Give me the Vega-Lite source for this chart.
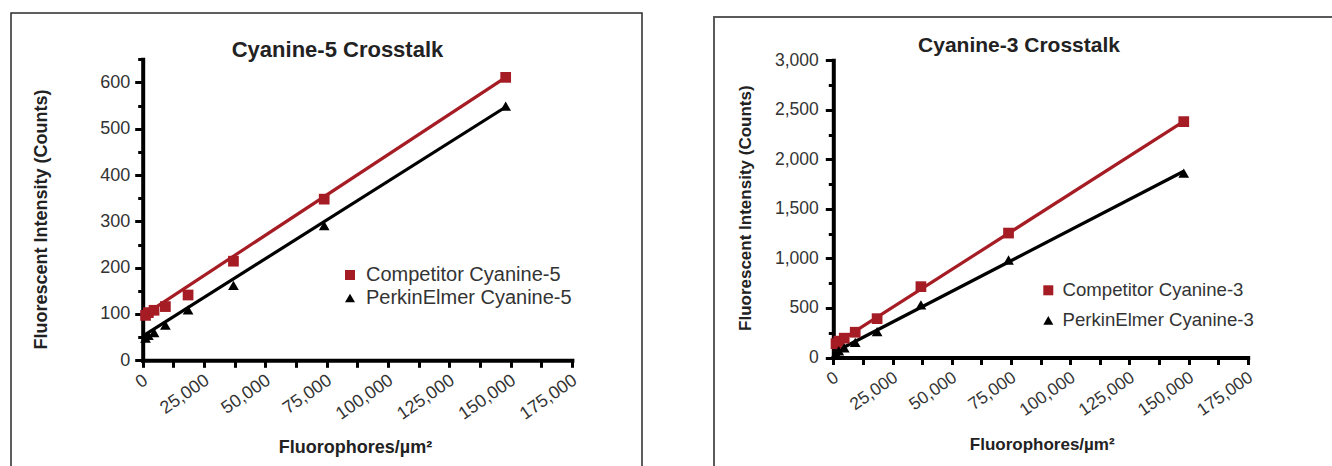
{
  "$schema": "https://vega.github.io/schema/vega-lite/v6.json",
  "padding": {"left": 10, "top": 12, "right": 0, "bottom": 0},
  "bounds": "flush",
  "center": true,
  "spacing": 72,
  "resolve": {"scale": {"color": "independent", "shape": "independent"}, "legend": {"color": "independent", "shape": "independent"}},
  "config": {
    "font": "Liberation Sans",
    "axis": {"grid": false, "domainColor": "#000000", "tickColor": "#000000", "labelColor": "#333333", "titleColor": "#222222", "titleFontWeight": "bold", "labelOverlap": false, "labelFlush": false, "labelBound": false, "domainCap": "square"},
    "legend": {"labelLimit": 400, "padding": 0}
  },
  "datasets": {
    "pts5": [
      {"series": "Competitor Cyanine-5", "x": 1156, "y": 97},
      {"series": "Competitor Cyanine-5", "x": 2312, "y": 103},
      {"series": "Competitor Cyanine-5", "x": 4625, "y": 108},
      {"series": "Competitor Cyanine-5", "x": 9250, "y": 116},
      {"series": "Competitor Cyanine-5", "x": 18500, "y": 141},
      {"series": "Competitor Cyanine-5", "x": 37000, "y": 214},
      {"series": "Competitor Cyanine-5", "x": 74000, "y": 348},
      {"series": "Competitor Cyanine-5", "x": 148000, "y": 611},
      {"series": "PerkinElmer Cyanine-5", "x": 1156, "y": 48},
      {"series": "PerkinElmer Cyanine-5", "x": 2312, "y": 54},
      {"series": "PerkinElmer Cyanine-5", "x": 4625, "y": 60},
      {"series": "PerkinElmer Cyanine-5", "x": 9250, "y": 76},
      {"series": "PerkinElmer Cyanine-5", "x": 18500, "y": 109},
      {"series": "PerkinElmer Cyanine-5", "x": 37000, "y": 162},
      {"series": "PerkinElmer Cyanine-5", "x": 74000, "y": 291},
      {"series": "PerkinElmer Cyanine-5", "x": 148000, "y": 549}
    ],
    "fit5red": [{"x": 0, "y": 96}, {"x": 148000, "y": 611}],
    "fit5black": [{"x": 0, "y": 52}, {"x": 148000, "y": 547}],
    "pts3": [
      {"series": "Competitor Cyanine-3", "x": 1156, "y": 140},
      {"series": "Competitor Cyanine-3", "x": 2312, "y": 165},
      {"series": "Competitor Cyanine-3", "x": 4625, "y": 195},
      {"series": "Competitor Cyanine-3", "x": 9250, "y": 255},
      {"series": "Competitor Cyanine-3", "x": 18500, "y": 392},
      {"series": "Competitor Cyanine-3", "x": 37000, "y": 715},
      {"series": "Competitor Cyanine-3", "x": 74000, "y": 1256},
      {"series": "Competitor Cyanine-3", "x": 148000, "y": 2381},
      {"series": "PerkinElmer Cyanine-3", "x": 1156, "y": 42},
      {"series": "PerkinElmer Cyanine-3", "x": 2312, "y": 68},
      {"series": "PerkinElmer Cyanine-3", "x": 4625, "y": 98},
      {"series": "PerkinElmer Cyanine-3", "x": 9250, "y": 152},
      {"series": "PerkinElmer Cyanine-3", "x": 18500, "y": 262},
      {"series": "PerkinElmer Cyanine-3", "x": 37000, "y": 531},
      {"series": "PerkinElmer Cyanine-3", "x": 74000, "y": 984},
      {"series": "PerkinElmer Cyanine-3", "x": 148000, "y": 1861}
    ],
    "fit3red": [{"x": 0, "y": 125}, {"x": 148000, "y": 2383}],
    "fit3black": [{"x": 0, "y": 48}, {"x": 148000, "y": 1880}]
  },
  "hconcat": [
    {
      "width": 631,
      "height": 470,
      "view": {"stroke": "#2a2a2a", "strokeWidth": 1.5, "fill": "#ffffff"},
      "title": {"text": "Cyanine-5 Crosstalk", "anchor": "middle", "frame": "group", "offset": -59, "baseline": "middle", "dx": 11, "fontSize": 22, "fontWeight": "bold", "color": "#222222"},
      "encoding": {
        "x": {"field": "x", "type": "quantitative",
          "scale": {"domain": [0, 175000], "range": [131.7, 560.9], "nice": false, "zero": false},
          "axis": {"title": "Fluorophores/µm²", "orient": "bottom", "offset": -122.7,
            "values": [0, 12500, 25000, 37500, 50000, 62500, 75000, 87500, 100000, 112500, 125000, 137500, 150000, 162500, 175000],
            "labelExpr": "datum.value % 25000 === 0 ? format(datum.value, ',') : ''",
            "labelAngle": -35, "labelAlign": "right", "labelBaseline": "middle", "labelFontSize": 18, "labelPadding": 11, "labelOffset": 3,
            "tickSize": 7, "tickWidth": 3, "domainWidth": 4,
            "titleFontSize": 18, "titleX": 344, "titleY": 87.4, "titleAlign": "center", "titleBaseline": "middle", "titleAngle": 0}},
        "y": {"field": "y", "type": "quantitative",
          "scale": {"domain": [0, 650], "range": [347.3, 46.3], "nice": false, "zero": false},
          "axis": {"title": "Fluorescent Intensity (Counts)", "orient": "left", "offset": -131.7,
            "values": [0, 50, 100, 150, 200, 250, 300, 350, 400, 450, 500, 550, 600, 650],
            "labelExpr": "datum.value % 100 === 0 ? format(datum.value, ',') : ''",
            "labelFontSize": 18, "labelPadding": 5,
            "tickSize": {"condition": {"test": "datum.value % 100 === 0", "value": 8}, "value": 5}, "tickWidth": 3, "domainWidth": 4,
            "titleFontSize": 18, "titleX": -100.9, "titleY": 206, "titleAlign": "center", "titleBaseline": "middle", "titleAngle": -90}}
      },
      "layer": [
        {"data": {"name": "fit5red"}, "mark": {"type": "line", "color": "#a51c24", "strokeWidth": 3.2}},
        {"data": {"name": "fit5black"}, "mark": {"type": "line", "color": "#000000", "strokeWidth": 3.2}},
        {"data": {"name": "pts5"},
          "mark": {"type": "point", "filled": true, "opacity": 1, "size": 115, "strokeWidth": 0},
          "encoding": {
            "color": {"field": "series", "type": "nominal", "scale": {"domain": ["Competitor Cyanine-5", "PerkinElmer Cyanine-5"], "range": ["#a51c24", "#000000"]},
              "legend": {"title": null, "orient": "none", "legendX": 329, "legendY": 252, "labelFontSize": 20, "labelColor": "#333333", "symbolSize": 100, "symbolStrokeWidth": 0, "labelOffset": 6, "rowPadding": 3}},
            "shape": {"field": "series", "type": "nominal", "scale": {"domain": ["Competitor Cyanine-5", "PerkinElmer Cyanine-5"], "range": ["square", "triangle-up"]},
              "legend": {"title": null, "orient": "none", "legendX": 329, "legendY": 252, "labelFontSize": 20, "labelColor": "#333333", "symbolSize": 100, "symbolStrokeWidth": 0, "labelOffset": 6, "rowPadding": 3}}
          }}
      ]
    },
    {
      "width": 630,
      "height": 462,
      "view": {"stroke": "#5a5a5a", "strokeWidth": 2, "fill": "#ffffff"},
      "title": {"text": "Cyanine-3 Crosstalk", "anchor": "middle", "frame": "group", "offset": -49.5, "baseline": "middle", "dx": -10, "fontSize": 21, "fontWeight": "bold", "color": "#222222"},
      "encoding": {
        "x": {"field": "x", "type": "quantitative",
          "scale": {"domain": [0, 175000], "range": [119.3, 533.7], "nice": false, "zero": false},
          "axis": {"title": "Fluorophores/µm²", "orient": "bottom", "offset": -121.5,
            "values": [0, 12500, 25000, 37500, 50000, 62500, 75000, 87500, 100000, 112500, 125000, 137500, 150000, 162500, 175000],
            "labelExpr": "datum.value % 25000 === 0 ? format(datum.value, ',') : ''",
            "labelAngle": -35, "labelAlign": "right", "labelBaseline": "middle", "labelFontSize": 17.5, "labelPadding": 11, "labelOffset": 3,
            "tickSize": 7, "tickWidth": 3, "domainWidth": 4,
            "titleFontSize": 17, "titleX": 327.7, "titleY": 86.8, "titleAlign": "center", "titleBaseline": "middle", "titleAngle": 0}},
        "y": {"field": "y", "type": "quantitative",
          "scale": {"domain": [0, 3000], "range": [340.5, 43.3], "nice": false, "zero": false},
          "axis": {"title": "Fluorescent Intensity (Counts)", "orient": "left", "offset": -119.3,
            "values": [0, 250, 500, 750, 1000, 1250, 1500, 1750, 2000, 2250, 2500, 2750, 3000],
            "labelExpr": "datum.value % 500 === 0 ? format(datum.value, ',') : ''",
            "labelFontSize": 17.5, "labelPadding": 7,
            "tickSize": {"condition": {"test": "datum.value % 500 === 0", "value": 8}, "value": 5}, "tickWidth": 3, "domainWidth": 4,
            "titleFontSize": 17, "titleX": -87.6, "titleY": 190.7, "titleAlign": "center", "titleBaseline": "middle", "titleAngle": -90}}
      },
      "layer": [
        {"data": {"name": "fit3red"}, "mark": {"type": "line", "color": "#a51c24", "strokeWidth": 3.2}},
        {"data": {"name": "fit3black"}, "mark": {"type": "line", "color": "#000000", "strokeWidth": 3.2}},
        {"data": {"name": "pts3"},
          "mark": {"type": "point", "filled": true, "opacity": 1, "size": 115, "strokeWidth": 0},
          "encoding": {
            "color": {"field": "series", "type": "nominal", "scale": {"domain": ["Competitor Cyanine-3", "PerkinElmer Cyanine-3"], "range": ["#a51c24", "#000000"]},
              "legend": {"title": null, "orient": "none", "legendX": 325, "legendY": 264, "labelFontSize": 18.6, "labelColor": "#333333", "symbolSize": 100, "symbolStrokeWidth": 0, "labelOffset": 5, "rowPadding": 11}},
            "shape": {"field": "series", "type": "nominal", "scale": {"domain": ["Competitor Cyanine-3", "PerkinElmer Cyanine-3"], "range": ["square", "triangle-up"]},
              "legend": {"title": null, "orient": "none", "legendX": 325, "legendY": 264, "labelFontSize": 18.6, "labelColor": "#333333", "symbolSize": 100, "symbolStrokeWidth": 0, "labelOffset": 5, "rowPadding": 11}}
          }}
      ]
    }
  ]
}
